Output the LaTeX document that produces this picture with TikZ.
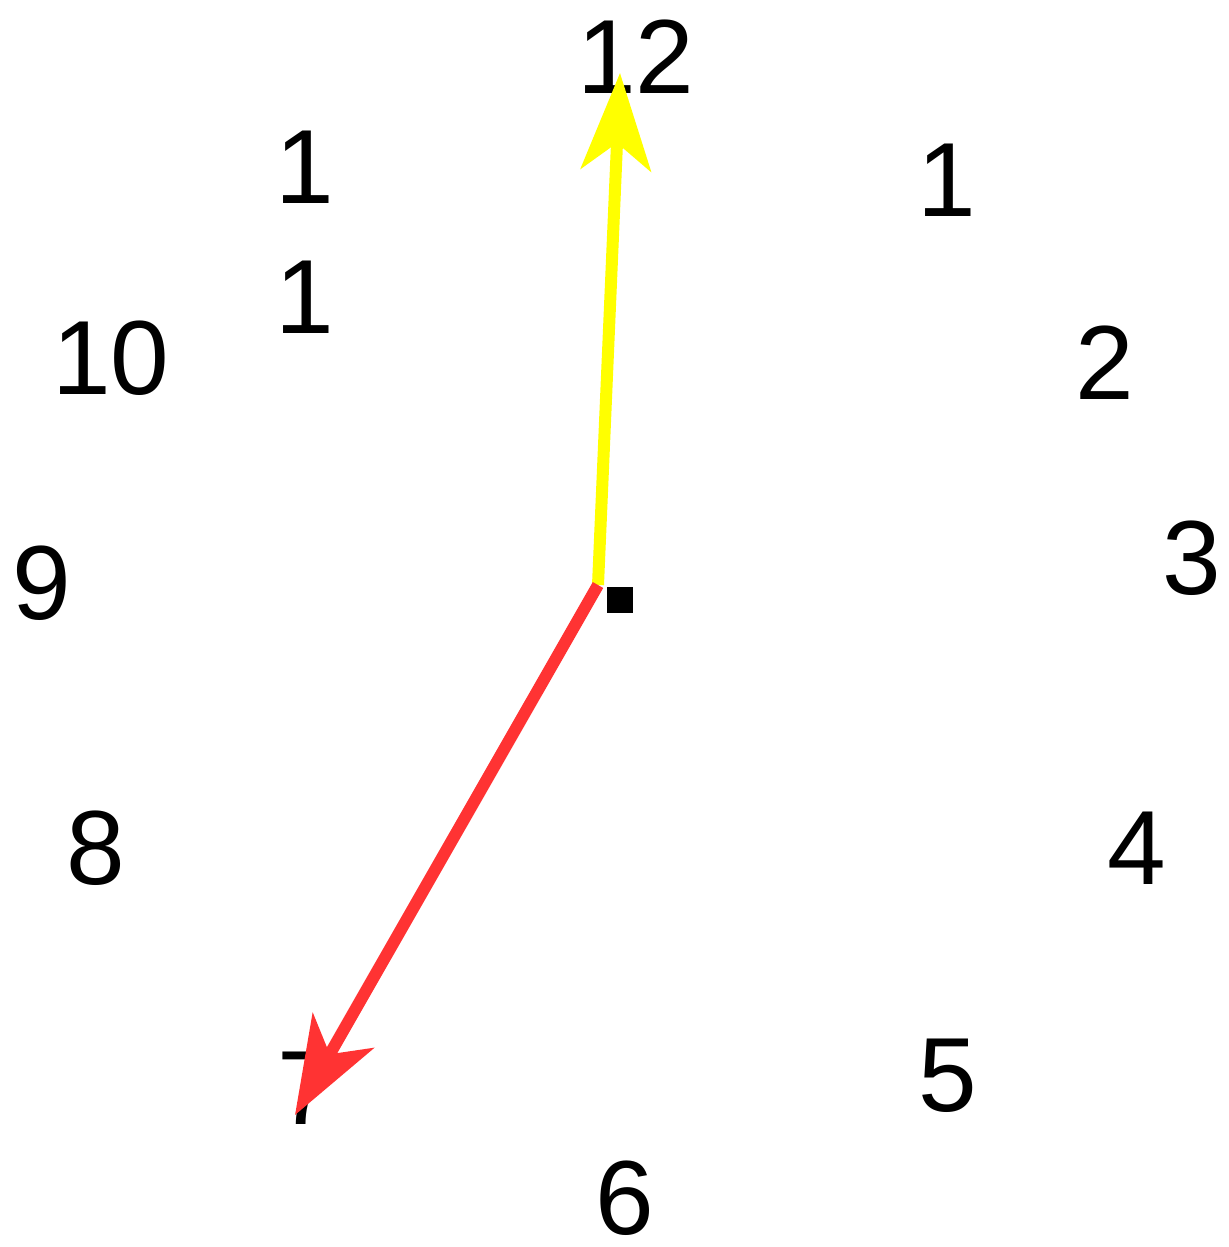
\documentclass[tikz,border=0pt]{standalone}
\usepackage{fontspec}
\setmainfont{Liberation Sans}
\usepackage{xcolor}
\usepackage{tikz}
\usetikzlibrary{arrows.meta}
\definecolor{minhand}{HTML}{FFFF00}
\definecolor{hourhand}{HTML}{FF3333}
\tikzset{
  num/.style={inner sep=0pt,font=\fontsize{60}{74}\selectfont,align=center},
  hand/.style={line width=0.24cm,-{Stealth[length=1.94cm,width=1.4cm,inset=0.54cm]}},
  pivot/.style={fill=black,inner sep=0pt,minimum size=0.52cm},
}
\begin{document}
\begin{tikzpicture}[x=0.02cm,y=-0.02cm]
  \useasboundingbox (0,0) rectangle (1228,1247);
  % dial numbers
  \node[num] (h12) at (636,57) {12};
  \node[num] (h1) at (947,180) {1};
  \node[num] (h2) at (1105,363) {2};
  \node[num] (h3) at (1192,558) {3};
  \node[num] (h4) at (1137,848) {4};
  \node[num] (h5) at (948,1076) {5};
  \node[num] (h6) at (625,1198) {6};
  \node[num] (h7) at (307,1088) {7};
  \node[num] (h8) at (96,848) {8};
  \node[num] (h9) at (42,583) {9};
  \node[num] (h10) at (111,358) {10};
  \node[num] (h11) at (305,232) {1\\1};
  % hands
  \coordinate (c) at (598,585);
  \coordinate (mtip) at (620,73);
  \coordinate (htip) at (295,1115);
  \node[pivot] (p) at (620,600) {};
  \draw[hand,minhand] (c) -- (mtip);
  \draw[hand,hourhand] (c) -- (htip);
\end{tikzpicture}
\end{document}
